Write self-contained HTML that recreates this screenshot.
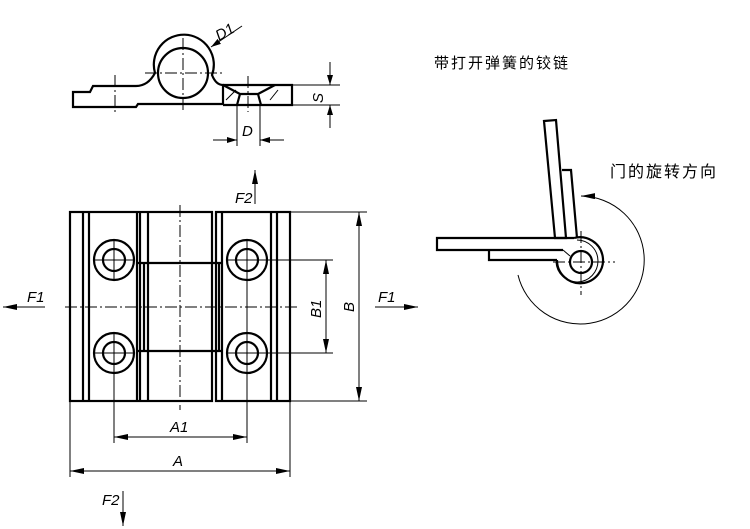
<!DOCTYPE html>
<html><head><meta charset="utf-8"><style>
html,body{margin:0;padding:0;background:#fff;}
svg{display:block;}
text{font-family:"Liberation Sans","Noto Sans CJK SC",sans-serif;fill:#000;}
.i{font-style:italic;font-size:15px;}
.t{stroke:#000;stroke-width:2.2;fill:none;}
.n{stroke:#000;stroke-width:1;fill:none;}
.c{stroke:#000;stroke-width:1;fill:none;stroke-dasharray:12,3,2,3;}
</style></head><body>
<svg width="750" height="529" viewBox="0 0 750 529" xmlns="http://www.w3.org/2000/svg">
<defs>
<marker id="a" viewBox="0 0 10 6" refX="10" refY="3" markerWidth="10" markerHeight="6" orient="auto-start-reverse" markerUnits="userSpaceOnUse"><path d="M0,0 L10,3 L0,6 Z" fill="#000"/></marker>
<marker id="b" viewBox="0 0 14 6" refX="14" refY="3" markerWidth="14" markerHeight="6" orient="auto-start-reverse" markerUnits="userSpaceOnUse"><path d="M0,0 L14,3 L0,6 Z" fill="#000"/></marker>
</defs>

<!-- TOP VIEW -->
<path class="t" d="M73,92 L90,92 L93,86 L136,86 Q148,86 155,73 A30,30 0 1 1 212,75 Q216,85 223,85 L223,104 L138,104 L136,107 L73,107 Z"/>
<circle class="t" cx="183" cy="73" r="25"/>
<path class="t" d="M223,85 L292,85 L292,105 L223,105"/>
<path class="t" d="M237,105 L240,94 L258,94 L261,105 M223,85 L240,94 M275,85 L258,94"/>
<path class="n" d="M226,100 L236,90 M270,100 L278,90"/>
<line class="c" x1="183" y1="38" x2="183" y2="110"/>
<line class="c" x1="145" y1="73" x2="222" y2="73"/>
<line class="c" x1="115" y1="75" x2="115" y2="112"/>
<line class="c" x1="248" y1="76" x2="248" y2="112"/>
<line class="n" x1="237" y1="105" x2="237" y2="146"/>
<line class="n" x1="260" y1="105" x2="260" y2="146"/>
<line class="n" x1="213" y1="140" x2="237" y2="140" marker-end="url(#a)"/>
<line class="n" x1="284" y1="140" x2="260" y2="140" marker-end="url(#a)"/>
<text class="i" x="242" y="136">D</text>
<line class="n" x1="292" y1="85" x2="340" y2="85"/>
<line class="n" x1="292" y1="105" x2="340" y2="105"/>
<line class="n" x1="330" y1="62" x2="330" y2="85" marker-end="url(#a)"/>
<line class="n" x1="330" y1="128" x2="330" y2="105" marker-end="url(#a)"/>
<text class="i" transform="translate(323,103) rotate(-90)">S</text>
<line class="n" x1="242" y1="26" x2="211" y2="47" marker-end="url(#a)"/>
<text class="i" transform="translate(219,41) rotate(-30)">D1</text>

<!-- FRONT VIEW -->
<rect class="t" x="70" y="212" width="142" height="189"/>
<rect class="t" x="216" y="212" width="74" height="189"/>
<line class="t" x1="83" y1="212" x2="83" y2="401"/>
<line class="t" x1="89" y1="212" x2="89" y2="401"/>
<line class="t" x1="137" y1="212" x2="137" y2="401"/>
<line class="t" x1="140" y1="212" x2="140" y2="401"/>
<line class="t" x1="148" y1="212" x2="148" y2="263"/>
<line class="t" x1="148" y1="351" x2="148" y2="401"/>
<line class="t" x1="222" y1="212" x2="222" y2="401"/>
<line class="t" x1="271" y1="212" x2="271" y2="401"/>
<line class="t" x1="277" y1="212" x2="277" y2="401"/>
<path class="t" d="M137,263 L222,263 M137,351 L222,351 M144,263 L144,351 M148,263 L148,351 M219,263 L219,351"/>
<g class="t">
<circle cx="114" cy="260" r="20"/><circle cx="114" cy="260" r="11"/>
<circle cx="114" cy="353" r="20"/><circle cx="114" cy="353" r="11"/>
<circle cx="247" cy="260" r="20"/><circle cx="247" cy="260" r="11"/>
<circle cx="247" cy="353" r="20"/><circle cx="247" cy="353" r="11"/>
</g>
<path class="n" d="M94,260 L134,260 M114,240 L114,280 M94,353 L134,353 M227,260 L267,260 M227,353 L267,353"/>
<line class="c" x1="65" y1="307" x2="300" y2="307"/>
<line class="c" x1="180" y1="205" x2="180" y2="410"/>
<!-- extension lines -->
<line class="n" x1="114" y1="333" x2="114" y2="443"/>
<line class="n" x1="247" y1="240" x2="247" y2="443"/>
<line class="n" x1="70" y1="401" x2="70" y2="477"/>
<line class="n" x1="290" y1="401" x2="290" y2="477"/>
<line class="n" x1="267" y1="260" x2="333" y2="260"/>
<line class="n" x1="267" y1="353" x2="333" y2="353"/>
<line class="n" x1="290" y1="212" x2="367" y2="212"/>
<line class="n" x1="290" y1="401" x2="367" y2="401"/>
<line class="n" x1="114" y1="437" x2="247" y2="437" marker-start="url(#b)" marker-end="url(#b)"/>
<line class="n" x1="70" y1="471" x2="290" y2="471" marker-start="url(#b)" marker-end="url(#b)"/>
<line class="n" x1="326" y1="260" x2="326" y2="353" marker-start="url(#b)" marker-end="url(#b)"/>
<line class="n" x1="359" y1="212" x2="359" y2="401" marker-start="url(#b)" marker-end="url(#b)"/>
<text class="i" x="170" y="432">A1</text>
<text class="i" x="173" y="466">A</text>
<text class="i" transform="translate(321,318) rotate(-90)">B1</text>
<text class="i" transform="translate(354,312) rotate(-90)">B</text>
<!-- forces -->
<line class="n" x1="45" y1="307" x2="3" y2="307" marker-end="url(#b)"/>
<text class="i" x="27" y="302">F1</text>
<line class="n" x1="375" y1="307" x2="418" y2="307" marker-end="url(#b)"/>
<text class="i" x="378" y="302">F1</text>
<line class="n" x1="255" y1="204" x2="255" y2="170" marker-end="url(#b)"/>
<text class="i" x="235" y="203">F2</text>
<line class="n" x1="123" y1="491" x2="123" y2="526" marker-end="url(#b)"/>
<text class="i" x="102" y="505">F2</text>

<!-- RIGHT DIAGRAM -->
<text x="434" y="68" style="font-size:15px;letter-spacing:2px">带打开弹簧的铰链</text>
<text x="610" y="177" style="font-size:16px;letter-spacing:2px">门的旋转方向</text>
<path class="t" d="M544,121 L556,120 L566,238 L555,238 Z"/>
<path class="t" d="M562,170 L571,170 L577,238"/>
<path class="t" d="M574,238 L437,238 L437,250 L563,250"/>
<path class="t" d="M489,250 L489,260 L557,260"/>
<path class="t" d="M574,238 A23,23 0 1 1 557,260"/>
<path class="n" d="M577,240 A21,21 0 1 1 556,262" stroke-width="1.5"/>
<circle class="t" cx="581" cy="262" r="11"/>
<path class="n" d="M563,250 L570,256"/>
<line class="c" x1="581" y1="231" x2="581" y2="295"/>
<line class="c" x1="553" y1="262" x2="615" y2="262"/>
<path class="n" d="M518,275 A64,64 0 1 0 581,196" marker-end="url(#b)"/>
</svg>
</body></html>
